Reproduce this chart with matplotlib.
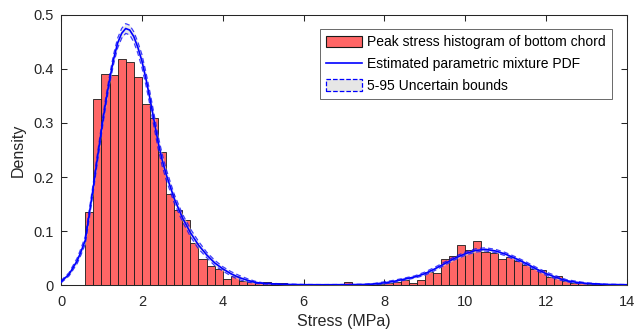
import matplotlib.pyplot as plt
import numpy as np
from matplotlib.lines import Line2D
from matplotlib.patches import Patch

plt.rcParams["font.family"] = ["Liberation Sans", "DejaVu Sans"]

# histogram of peak stress, 0.2 MPa bins starting at 0.6 MPa
bin_width = 0.2
bin_start = 0.6
hist_density = [
    0.135, 0.344, 0.391, 0.388, 0.418, 0.413, 0.385, 0.336, 0.309, 0.246,
    0.169, 0.139, 0.120, 0.077, 0.048, 0.035, 0.029, 0.012, 0.017, 0.008,
    0.006, 0.004, 0.006, 0.003, 0.003, 0.001, 0.001, 0.000, 0.001, 0.001,
    0.001, 0.001, 0.006, 0.002, 0.001, 0.002, 0.002, 0.003, 0.005, 0.009,
    0.004, 0.009, 0.025, 0.023, 0.049, 0.054, 0.075, 0.064, 0.081, 0.062,
    0.060, 0.049, 0.051, 0.044, 0.037, 0.029, 0.027, 0.014, 0.017, 0.008,
    0.003, 0.003, 0.002, 0.002, 0.001, 0.001, 0.001,
]

# fitted mixture pdf and its 5-95 % bounds
pdf_x = [
    0.0, 0.2, 0.4, 0.5, 0.6, 0.7, 0.8, 0.9, 1.0, 1.1, 1.2, 1.3, 1.4, 1.5,
    1.6, 1.7, 1.8, 1.9, 2.0, 2.1, 2.2, 2.3, 2.4, 2.5, 2.6, 2.8, 3.0, 3.2,
    3.4, 3.6, 3.8, 4.0, 4.2, 4.4, 4.6, 4.8, 5.0, 5.5, 6.0, 6.5, 7.0, 7.5,
    7.75, 8.0, 8.25, 8.5, 8.75, 9.0, 9.25, 9.5, 9.75, 10.0, 10.25, 10.5,
    10.75, 11.0, 11.25, 11.5, 11.75, 12.0, 12.25, 12.5, 12.75, 13.0, 13.5,
    14.0,
]
pdf_mean = [
    0.006, 0.020, 0.045, 0.063, 0.083, 0.132, 0.182, 0.235, 0.287, 0.336,
    0.380, 0.418, 0.448, 0.466, 0.475, 0.472, 0.460, 0.440, 0.415, 0.382,
    0.345, 0.305, 0.265, 0.232, 0.205, 0.160, 0.125, 0.097, 0.074, 0.056,
    0.041, 0.030, 0.021, 0.014, 0.009, 0.005, 0.003, 0.0012, 0.0006, 0.0005,
    0.0006, 0.001, 0.002, 0.004, 0.007, 0.011, 0.015, 0.021, 0.030, 0.040,
    0.050, 0.058, 0.064, 0.066, 0.063, 0.057, 0.049, 0.040, 0.030, 0.021,
    0.014, 0.008, 0.005, 0.003, 0.001, 0.0005,
]
pdf_lower = [
    0.004, 0.017, 0.040, 0.057, 0.076, 0.124, 0.174, 0.227, 0.279, 0.328,
    0.372, 0.409, 0.439, 0.457, 0.466, 0.463, 0.450, 0.429, 0.403, 0.370,
    0.333, 0.293, 0.253, 0.221, 0.195, 0.152, 0.118, 0.090, 0.067, 0.051,
    0.036, 0.026, 0.017, 0.010, 0.006, 0.003, 0.002, 0.0005, 0.0002, 0.0002,
    0.0002, 0.0005, 0.001, 0.002, 0.005, 0.009, 0.013, 0.018, 0.027, 0.037,
    0.047, 0.055, 0.061, 0.063, 0.060, 0.054, 0.046, 0.037, 0.027, 0.018,
    0.011, 0.006, 0.003, 0.002, 0.0005, 0.0002,
]
pdf_upper = [
    0.008, 0.023, 0.050, 0.069, 0.090, 0.140, 0.190, 0.243, 0.295, 0.344,
    0.388, 0.427, 0.457, 0.475, 0.484, 0.481, 0.469, 0.450, 0.427, 0.394,
    0.357, 0.317, 0.277, 0.243, 0.215, 0.168, 0.132, 0.104, 0.081, 0.061,
    0.046, 0.034, 0.025, 0.018, 0.012, 0.007, 0.004, 0.002, 0.001, 0.0008,
    0.001, 0.0015, 0.003, 0.006, 0.009, 0.013, 0.017, 0.024, 0.033, 0.043,
    0.053, 0.061, 0.067, 0.069, 0.066, 0.060, 0.052, 0.043, 0.033, 0.024,
    0.017, 0.010, 0.007, 0.004, 0.0015, 0.0008,
]

x_ticks = [0, 2, 4, 6, 8, 10, 12, 14]
y_ticks = [0, 0.1, 0.2, 0.3, 0.4, 0.5]

bar_face = "#ff6666"
band_face = "#dcdcdc"
axis_grey = "#262626"

fig = plt.figure(figsize=(6.37, 3.33), dpi=100)
ax = fig.add_axes([0.0958, 0.1441, 0.8885, 0.8109])

bin_left = bin_start + bin_width * np.arange(len(hist_density))
ax.bar(bin_left, hist_density, width=bin_width, align="edge",
       color=bar_face, edgecolor="#1a1a1a", linewidth=0.6, zorder=2)

ax.fill_between(pdf_x, pdf_lower, pdf_upper, color=band_face, alpha=0.6,
                linewidth=0, zorder=3)
ax.plot(pdf_x, pdf_lower, color="blue", ls=(0, (4, 2.5)), lw=0.9, alpha=0.75, zorder=4)
ax.plot(pdf_x, pdf_upper, color="blue", ls=(0, (4, 2.5)), lw=0.9, alpha=0.75, zorder=4)
ax.plot(pdf_x, pdf_mean, color="blue", lw=1.2, zorder=5)

ax.set_xlim(0, 14)
ax.set_ylim(0, 0.5)
ax.set_xticks(x_ticks)
ax.set_yticks(y_ticks)
ax.set_xticklabels([str(v) for v in x_ticks])
ax.set_yticklabels(["0", "0.1", "0.2", "0.3", "0.4", "0.5"])
ax.tick_params(direction="in", length=4, width=0.75, top=True, right=True,
               colors=axis_grey, labelsize=10.5)
ax.tick_params(axis="x", pad=7)
ax.tick_params(axis="y", pad=5)
for sp in ax.spines.values():
    sp.set_color(axis_grey)
    sp.set_linewidth(0.75)

ax.set_xlabel("Stress (MPa)", fontsize=11.5, color=axis_grey, labelpad=4)
ax.set_ylabel("Density", fontsize=11.5, color=axis_grey, labelpad=6)

handles = [
    Patch(facecolor=bar_face, edgecolor="#1a1a1a", linewidth=0.8),
    Line2D([], [], color="blue", lw=1.2),
    Patch(facecolor="#e6e6e6", edgecolor="blue", linestyle="--", linewidth=0.9),
]
labels = [
    "Peak stress histogram of bottom chord",
    "Estimated parametric mixture PDF",
    "5-95 Uncertain bounds",
]
leg = ax.legend(handles, labels, loc="upper right", bbox_to_anchor=(0.9735, 0.948),
                borderaxespad=0, fontsize=10, frameon=True, fancybox=False,
                handlelength=2.6, handleheight=0.9, handletextpad=0.35,
                labelspacing=0.55, borderpad=0.45)
leg.get_frame().set_edgecolor(axis_grey)
leg.get_frame().set_linewidth(0.6)

fig.savefig("out.png", dpi=100)
